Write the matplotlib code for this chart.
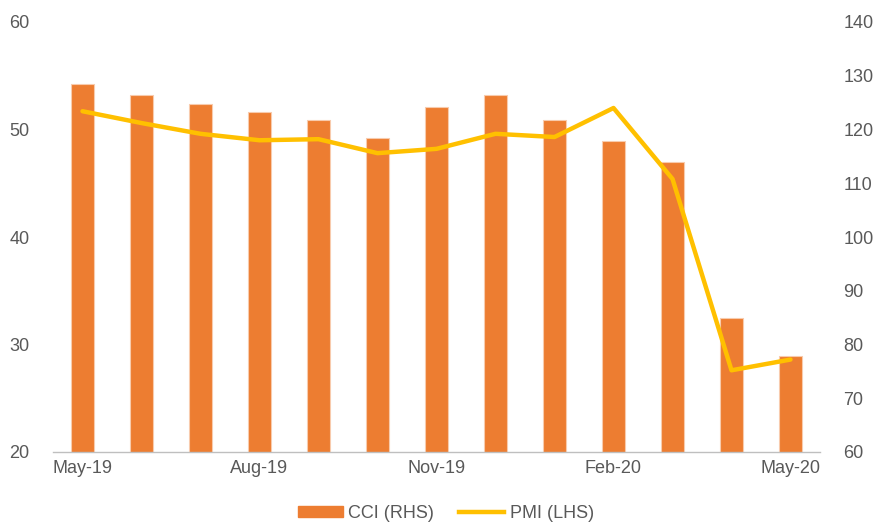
import matplotlib
matplotlib.use("Agg")
import matplotlib.pyplot as plt
from matplotlib.patches import Patch
from matplotlib.lines import Line2D
import numpy as np

plt.rcParams['font.family'] = ['Liberation Sans', 'DejaVu Sans']

months = ["May-19", "Jun-19", "Jul-19", "Aug-19", "Sep-19", "Oct-19", "Nov-19",
          "Dec-19", "Jan-20", "Feb-20", "Mar-20", "Apr-20", "May-20"]
cci = [128.4, 126.5, 124.7, 123.2, 121.7, 118.4, 124.1, 126.5, 121.7, 117.8, 114.0, 84.9, 77.9]
pmi = [51.7, 50.6, 49.6, 49.0, 49.1, 47.8, 48.2, 49.6, 49.3, 52.0, 45.4, 27.6, 28.6]
label_idx = [0, 3, 6, 9, 12]

text_color = "#595959"
bar_color = "#ED7D31"
line_color = "#FFC000"
fs = 13

fig = plt.figure(figsize=(8.74, 5.25), dpi=100)
ax = fig.add_axes([53/874, 73/525, 767/874, 430/525])
x = np.arange(len(months))

ax.bar(x, cci, width=0.39, color=bar_color, edgecolor="#F8CBAD", linewidth=0.8, zorder=2)
ax.set_ylim(60, 140)
ax.set_yticks(np.arange(60, 141, 10))
ax.set_xlim(-0.5, len(months) - 0.5)

ax2 = ax.twinx()
ax2.plot(x, pmi, color=line_color, linewidth=3.2, solid_joinstyle='round', solid_capstyle='round', zorder=3)
ax2.set_ylim(20, 60)
ax2.set_yticks(np.arange(20, 61, 10))
ax2.yaxis.tick_left()
ax.yaxis.tick_right()

for a in (ax, ax2):
    for s in ("top", "left", "right"):
        a.spines[s].set_visible(False)
    a.tick_params(axis='y', length=0, labelsize=fs, colors=text_color, pad=17)
ax2.spines["bottom"].set_visible(False)
ax.spines["bottom"].set_color("#BFBFBF")
ax.spines["bottom"].set_linewidth(1.0)

# tick marks at category boundaries every 3 months; labels at category centers
ax.set_xticks(np.arange(-0.5, len(months), 3))
ax.set_xticklabels([])
ax.set_xticks(label_idx, minor=True)
ax.set_xticklabels([months[i] for i in label_idx], minor=True)
ax.tick_params(axis='x', which='major', length=5, color="#BFBFBF", width=1.0)
ax.tick_params(axis='x', which='minor', length=0, labelsize=fs, colors=text_color, pad=6)
ax2.set_xticks([])

handles = [Patch(facecolor=bar_color, edgecolor=bar_color),
           Line2D([0], [0], color=line_color, linewidth=3.2)]
fig.legend(handles, ["CCI (RHS)", "PMI (LHS)"], loc="lower center", ncol=2,
           bbox_to_anchor=(0.51, -0.025), frameon=False, fontsize=fs,
           labelcolor=text_color, handlelength=2.5, handleheight=0.6,
           columnspacing=1.4, handletextpad=0.3)

fig.savefig("out.png", dpi=100)
